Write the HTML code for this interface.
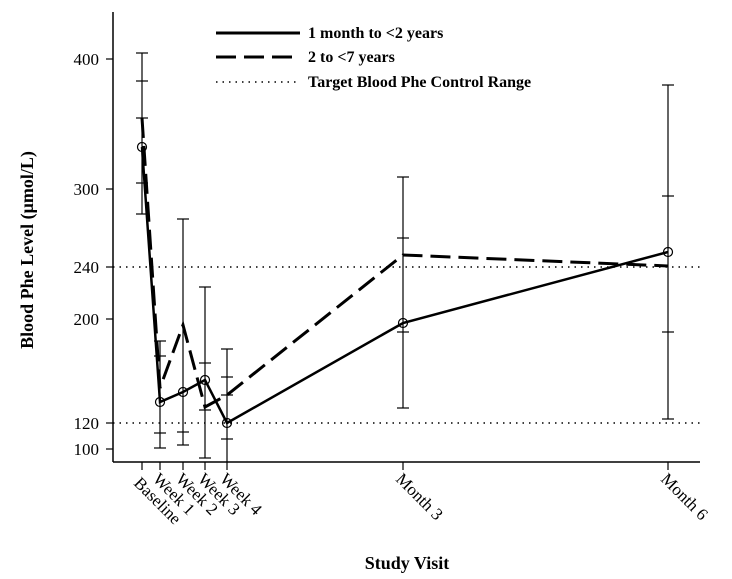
<!DOCTYPE html>
<html><head><meta charset="utf-8"><style>body{margin:0;background:#fff}svg{display:block}</style></head>
<body>
<svg width="732" height="579" viewBox="0 0 732 579" xmlns="http://www.w3.org/2000/svg" font-family="Liberation Serif, serif">
<g stroke="#000" fill="none">
<line x1="113" y1="12" x2="113" y2="462" stroke-width="1.5"/>
<line x1="113" y1="462" x2="700" y2="462" stroke-width="1.5"/>
<g stroke-width="1.2">
<line x1="106" y1="59" x2="113" y2="59"/><line x1="106" y1="189" x2="113" y2="189"/>
<line x1="106" y1="267" x2="113" y2="267"/><line x1="106" y1="319" x2="113" y2="319"/>
<line x1="106" y1="423" x2="113" y2="423"/><line x1="106" y1="449" x2="113" y2="449"/>
<line x1="142" y1="462" x2="142" y2="470"/><line x1="160" y1="462" x2="160" y2="470"/>
<line x1="183" y1="462" x2="183" y2="470"/><line x1="205" y1="462" x2="205" y2="470"/>
<line x1="227" y1="462" x2="227" y2="470"/><line x1="403" y1="462" x2="403" y2="470"/>
<line x1="668" y1="462" x2="668" y2="470"/>
</g>
<g stroke-width="1.5" stroke-dasharray="1.5,5">
<line x1="113" y1="267" x2="700" y2="267"/><line x1="113" y1="423" x2="700" y2="423"/>
<line x1="216" y1="82" x2="300" y2="82"/>
</g>
<g stroke-width="1.2">
<line x1="142" y1="53" x2="142" y2="214"/>
<line x1="136" y1="53" x2="148" y2="53"/><line x1="136" y1="81" x2="148" y2="81"/><line x1="136" y1="118" x2="148" y2="118"/><line x1="136" y1="183" x2="148" y2="183"/><line x1="136" y1="214" x2="148" y2="214"/>
<line x1="160" y1="341" x2="160" y2="448"/>
<line x1="154" y1="341" x2="166" y2="341"/><line x1="154" y1="356" x2="166" y2="356"/><line x1="154" y1="433" x2="166" y2="433"/><line x1="154" y1="448" x2="166" y2="448"/>
<line x1="183" y1="219" x2="183" y2="445"/>
<line x1="177" y1="219" x2="189" y2="219"/><line x1="177" y1="432" x2="189" y2="432"/><line x1="177" y1="445" x2="189" y2="445"/>
<line x1="205" y1="287" x2="205" y2="458"/>
<line x1="199" y1="287" x2="211" y2="287"/><line x1="199" y1="363" x2="211" y2="363"/><line x1="199" y1="410" x2="211" y2="410"/><line x1="199" y1="458" x2="211" y2="458"/>
<line x1="227" y1="349" x2="227" y2="462"/>
<line x1="221" y1="349" x2="233" y2="349"/><line x1="221" y1="377" x2="233" y2="377"/><line x1="221" y1="395" x2="233" y2="395"/><line x1="221" y1="439" x2="233" y2="439"/>
<line x1="403" y1="177" x2="403" y2="408"/>
<line x1="397" y1="177" x2="409" y2="177"/><line x1="397" y1="238" x2="409" y2="238"/><line x1="397" y1="332" x2="409" y2="332"/><line x1="397" y1="408" x2="409" y2="408"/>
<line x1="668" y1="85" x2="668" y2="419"/>
<line x1="662" y1="85" x2="674" y2="85"/><line x1="662" y1="196" x2="674" y2="196"/><line x1="662" y1="332" x2="674" y2="332"/><line x1="662" y1="419" x2="674" y2="419"/>
</g>
<polyline stroke-width="3" stroke-dasharray="20,8" points="142,118 160,388 183,325 205,407 227,395 403,255 668,266"/>
<polyline stroke-width="2.5" points="142,147 160,402 183,392 205,380 227,423 403,323 668,252"/>
<g stroke-width="1.2">
<circle cx="142" cy="147" r="4.5"/><circle cx="160" cy="402" r="4.5"/><circle cx="183" cy="392" r="4.5"/><circle cx="205" cy="380" r="4.5"/><circle cx="227" cy="423" r="4.5"/><circle cx="403" cy="323" r="4.5"/><circle cx="668" cy="252" r="4.5"/>
</g>
<line x1="216" y1="33" x2="300" y2="33" stroke-width="3"/>
<line x1="216" y1="57" x2="300" y2="57" stroke-width="3" stroke-dasharray="20,8"/>
</g>
<g font-size="16" font-weight="bold">
<text x="308" y="38">1 month to &lt;2 years</text>
<text x="308" y="62">2 to &lt;7 years</text>
<text x="308" y="87">Target Blood Phe Control Range</text>
</g>
<g font-size="17" text-anchor="end">
<text x="99" y="65">400</text><text x="99" y="195">300</text><text x="99" y="273">240</text>
<text x="99" y="325">200</text><text x="99" y="429">120</text><text x="99" y="455">100</text>
</g>
<g font-size="17">
<text transform="translate(133,484) rotate(45)">Baseline</text>
<text transform="translate(152,480) rotate(45)">Week 1</text>
<text transform="translate(175,480) rotate(45)">Week 2</text>
<text transform="translate(197,480) rotate(45)">Week 3</text>
<text transform="translate(219,480) rotate(45)">Week 4</text>
<text transform="translate(395,480) rotate(45)">Month 3</text>
<text transform="translate(660,480) rotate(45)">Month 6</text>
</g>
<text x="407" y="569" font-size="18" font-weight="bold" text-anchor="middle">Study Visit</text>
<text transform="translate(33,250) rotate(-90)" font-size="18" font-weight="bold" text-anchor="middle">Blood Phe Level (μmol/L)</text>
</svg>
</body></html>
